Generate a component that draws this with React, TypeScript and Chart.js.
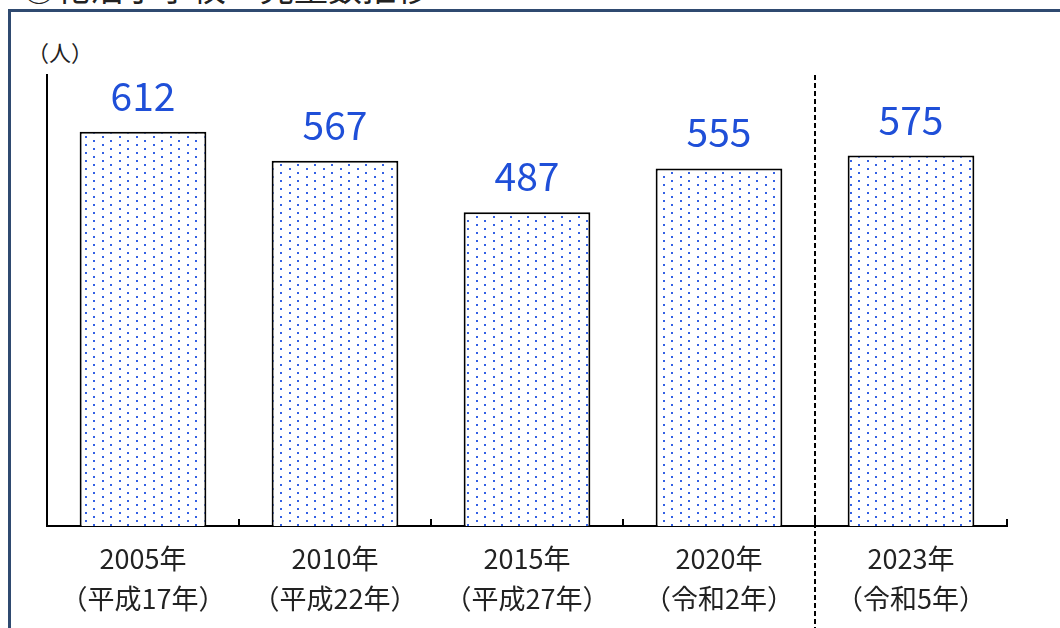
import React, { useEffect, useRef } from "react";
import { Chart, registerables } from "chart.js";
Chart.register(...registerables);

const categories = ["2005年", "2010年", "2015年", "2020年", "2023年"];
const eraLabels = ["（平成17年）", "（平成22年）", "（平成27年）", "（令和2年）", "（令和5年）"];
const students = [612, 567, 487, 555, 575];
const yMin = 0;
const yMax = 700;
const title = "⑦花沼小学校　児童数推移";
const unitLabel = "（人）";

const FONT = "'Noto Sans CJK JP', 'Noto Sans', sans-serif";

function makePattern(): CanvasPattern | string {
  const c = document.createElement("canvas");
  c.width = 17;
  c.height = 8;
  const g = c.getContext("2d");
  if (!g) return "#fff";
  g.fillStyle = "#ffffff";
  g.fillRect(0, 0, 17, 8);
  g.fillStyle = "rgba(30,80,225,0.9)";
  g.fillRect(0, 0, 2, 2);
  g.fillRect(8, 4, 2, 2);
  const ctx = document.createElement("canvas").getContext("2d");
  const p = ctx ? ctx.createPattern(c, "repeat") : null;
  return p || "#fff";
}

const overlayPlugin = {
  id: "overlay",
  afterDraw(chart: any) {
    const { ctx, chartArea, scales } = chart;
    const x = scales.x;
    const n = categories.length;
    const step = (x.right - x.left) / n;
    ctx.save();
    ctx.strokeStyle = "#000";
    ctx.lineWidth = 2;
    for (let i = 1; i <= n; i++) {
      const px = Math.round(x.left + i * step);
      ctx.beginPath();
      ctx.moveTo(px, chartArea.bottom);
      ctx.lineTo(px, chartArea.bottom - 7);
      ctx.stroke();
    }
    const dx = Math.round(x.left + (n - 1) * step);
    ctx.setLineDash([5, 3]);
    ctx.lineWidth = 2;
    ctx.beginPath();
    ctx.moveTo(dx, chartArea.top);
    ctx.lineTo(dx, chart.height);
    ctx.stroke();
    ctx.setLineDash([]);
    const meta = chart.getDatasetMeta(0);
    ctx.fillStyle = "#1f4fd8";
    ctx.font = `39px ${FONT}`;
    ctx.textAlign = "center";
    ctx.textBaseline = "alphabetic";
    meta.data.forEach((bar: any, i: number) => {
      ctx.fillText(String(students[i]), bar.x, bar.y - 21);
    });
    ctx.restore();
  },
};

export default function App() {
  const ref = useRef<HTMLCanvasElement | null>(null);
  useEffect(() => {
    if (!ref.current) return;
    const chart = new Chart(ref.current, {
      type: "bar",
      data: {
        labels: categories.map((c, i) => [c, eraLabels[i]]),
        datasets: [
          {
            data: students,
            backgroundColor: makePattern() as any,
            borderColor: "#000",
            borderWidth: 2,
            barPercentage: 0.66,
            categoryPercentage: 1,
          },
        ],
      },
      options: {
        animation: false,
        responsive: false,
        layout: { padding: { left: 47, right: 53, top: 75, bottom: 10 } },
        plugins: { legend: { display: false }, tooltip: { enabled: false }, title: { display: false } },
        scales: {
          x: {
            offset: true,
            grid: { display: false, drawTicks: false },
            border: { display: true, color: "#000", width: 2 },
            ticks: {
              color: "#222",
              padding: 12,
              maxRotation: 0,
              autoSkip: false,
              font: { size: 27, family: FONT, lineHeight: 1.5 },
            },
          },
          y: {
            min: yMin,
            max: yMax,
            grid: { display: false, drawTicks: false },
            border: { display: true, color: "#000", width: 2 },
            ticks: { display: false },
            afterFit: (s: any) => {
              s.width = 0;
            },
          },
        },
      },
      plugins: [overlayPlugin],
    });
    return () => chart.destroy();
  }, []);

  return (
    <div style={{ position: "absolute", left: 0, top: 0, width: 1060, height: 628, overflow: "hidden", background: "#fff" }}>
      <div
        style={{
          position: "absolute",
          left: 22,
          top: -30,
          fontSize: 34,
          lineHeight: 1,
          whiteSpace: "nowrap",
          color: "#222",
          fontFamily: FONT,
        }}
      >
        {title}
      </div>
      <div
        style={{
          position: "absolute",
          left: 8,
          top: 9,
          width: 1070,
          height: 640,
          border: "3px solid #2f4a70",
          boxSizing: "border-box",
        }}
      />
      <div
        style={{
          position: "absolute",
          left: 27,
          top: 40,
          fontSize: 22,
          lineHeight: 1,
          color: "#222",
          fontFamily: FONT,
          whiteSpace: "nowrap",
        }}
      >
        {unitLabel}
      </div>
      <canvas ref={ref} width={1060} height={641} style={{ position: "absolute", left: 0, top: 0 }} />
    </div>
  );
}
